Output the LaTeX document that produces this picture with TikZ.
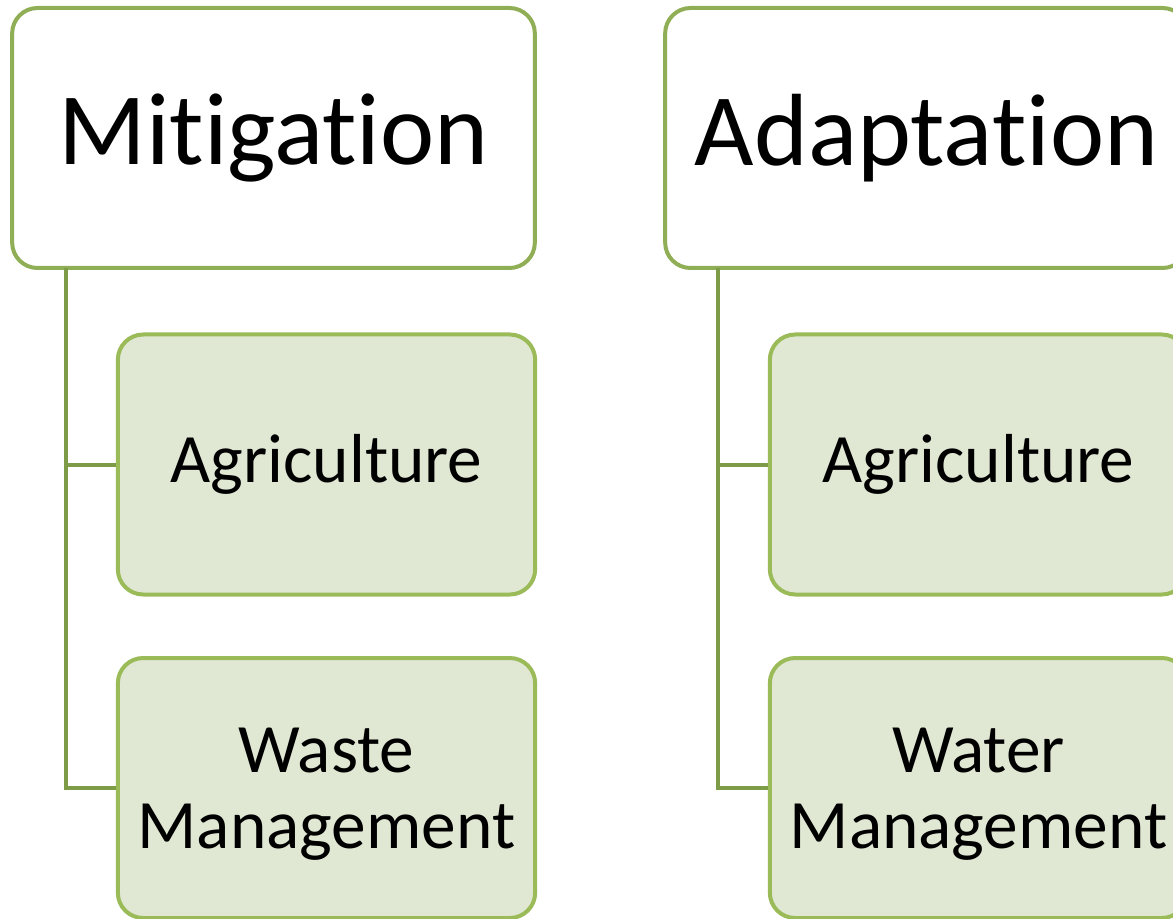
\documentclass[tikz,border=0pt]{standalone}
\usepackage{fontspec}
\setmainfont{Carlito}[Ligatures=NoCommon]
\usepackage{tikz}
\usetikzlibrary{positioning}
\definecolor{headline}{HTML}{8FAE55}
\definecolor{subline}{HTML}{9BBB59}
\definecolor{subfill}{HTML}{E0E8D4}
\definecolor{linkline}{HTML}{7E9B48}

\begin{document}
\begin{tikzpicture}[x=.75pt,y=-.75pt,
  headbox/.style={draw=headline, line width=3pt, rounded corners=19pt, fill=white,
    minimum width=392pt, minimum height=195pt, align=center,
    font=\fontsize{77pt}{84pt}\selectfont},
  subbox/.style={draw=subline, line width=3pt, rounded corners=19pt, fill=subfill,
    minimum width=313pt, minimum height=195pt, align=center,
    font=\fontsize{52pt}{57pt}\selectfont},
  link/.style={draw=linkline, line width=3pt}]
\useasboundingbox (0,0) rectangle (1173,919);
\clip (0,0) rectangle (1173,919);
% left column
\node[headbox] (mit) at (273.5,138) {Mitigation};
\node[subbox] (agrmit) at (326.5,464.5) {Agriculture};
\node[subbox, text depth=0pt] (waste) at (326.5,788) {Waste\\Management};
\coordinate (mitroot) at (66,268);
\draw[link] (mitroot) |- (agrmit.west);
\draw[link] (mitroot) |- (waste.west);
% right column
\node[headbox] (adapt) at (926.5,138) {Adaptation};
\node[subbox] (agradapt) at (978.5,464.5) {Agriculture};
\node[subbox, text depth=0pt] (water) at (978.5,788) {Water\\Management};
\coordinate (adaptroot) at (718,268);
\draw[link] (adaptroot) |- (agradapt.west);
\draw[link] (adaptroot) |- (water.west);
\end{tikzpicture}
\end{document}
